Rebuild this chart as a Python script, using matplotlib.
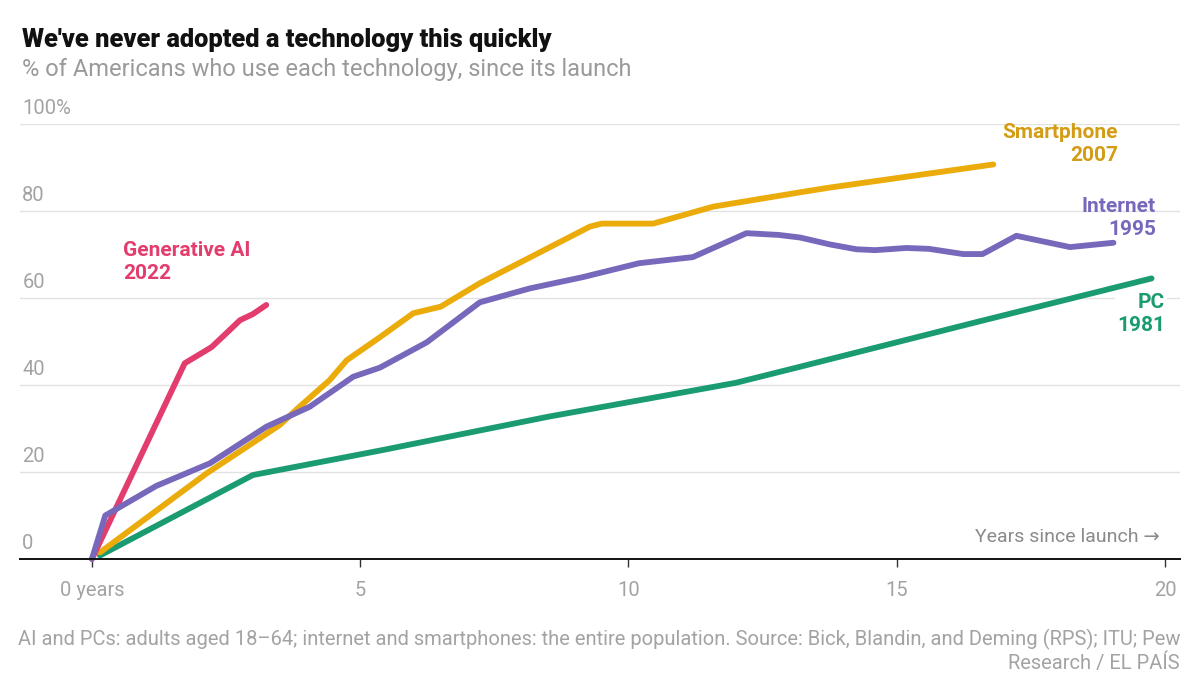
import matplotlib
matplotlib.use("Agg")
import matplotlib.pyplot as plt
from matplotlib import font_manager

# data (years since launch, % of Americans)
ai_x = [0, 1.73, 2.23, 2.54, 2.76, 3.0, 3.25]
ai_y = [0, 45.0, 48.7, 52.3, 54.9, 56.3, 58.4]

internet_x = [0, 0.25, 1.2, 2.2, 3.25, 4.06, 4.87, 5.37, 6.24, 7.23, 8.16, 9.15, 10.2, 11.2,
              12.2, 12.8, 13.2, 13.76, 14.25, 14.6, 15.18, 15.6, 16.24, 16.6, 17.23, 18.23, 19.04]
internet_y = [0, 10.0, 16.8, 22.0, 30.4, 35.0, 41.9, 44.0, 49.8, 59.0, 62.2, 64.8, 68.0, 69.4,
              74.9, 74.5, 73.9, 72.3, 71.2, 71.0, 71.5, 71.3, 70.1, 70.1, 74.3, 71.7, 72.7]

phone_x = [0.15, 2.14, 3.5, 3.87, 4.43, 4.75, 5.37, 5.99, 6.5, 7.23, 9.28, 9.5, 10.46, 11.58,
           13.2, 13.76, 16.17, 16.8]
phone_y = [1.5, 19.7, 30.8, 35.0, 41.1, 45.7, 51.0, 56.5, 58.0, 63.4, 76.4, 77.1, 77.1, 81.0,
           84.3, 85.4, 89.6, 90.7]

pc_x = [0.15, 3.0, 5.4, 8.5, 11.6, 12.0, 13.2, 16.5, 19.75]
pc_y = [0.8, 19.3, 25.0, 32.7, 39.6, 40.5, 44.2, 54.5, 64.5]

y_ticks = [0, 20, 40, 60, 80, 100]
y_labels = ["0", "20", "40", "60", "80", "100%"]
x_ticks = [0, 5, 10, 15, 20]
x_labels = ["0 years", "5", "10", "15", "20"]

PINK = "#e23d6d"
PURPLE = "#7868bb"
YELLOW = "#ebab0a"
YELLOW_TXT = "#d39c12"
GREEN = "#1a9b72"
GRAY = "#a3a3a3"

installed = {f.name for f in font_manager.fontManager.ttflist}
narrow = "Liberation Sans Narrow" if "Liberation Sans Narrow" in installed else "Roboto"
plt.rcParams["font.family"] = [narrow, "DejaVu Sans"]

fig = plt.figure(figsize=(12, 6.97), dpi=100)
ax = fig.add_axes([20 / 1200, 1 - 559 / 697, 1160 / 1200, 435 / 697])
ax.set_xlim(-1.34, 20.28)
ax.set_ylim(0, 100)

for v in y_ticks[1:]:
    ax.axhline(v, color="#e2e2e2", lw=1.0, zorder=1)
ax.axhline(0, color="#111111", lw=1.4, zorder=5, clip_on=False)

lw = 4.2
ax.plot(pc_x, pc_y, color=GREEN, lw=lw, solid_capstyle="round", zorder=3, clip_on=False)
ax.plot(phone_x, phone_y, color=YELLOW, lw=lw, solid_capstyle="round", zorder=3, clip_on=False)
ax.plot(ai_x, ai_y, color=PINK, lw=lw, solid_capstyle="round", zorder=3, clip_on=False)
ax.plot(internet_x, internet_y, color=PURPLE, lw=lw, solid_capstyle="round", zorder=4,
        clip_on=False)

for s in ax.spines.values():
    s.set_visible(False)
ax.set_yticks([])
ax.set_xticks(x_ticks)
ax.set_xticklabels(x_labels)
ax.tick_params(axis="x", length=6, width=1, color="#333333", pad=10,
               labelsize=14.5, labelcolor=GRAY)

ytr = ax.get_yaxis_transform()
for v, lab in zip(y_ticks, y_labels):
    ax.text(0.002, v + 1.3, lab, transform=ytr, fontsize=14.5, color=GRAY,
            ha="left", va="bottom")

# series labels
lab_kw = dict(fontsize=15, fontweight="bold", linespacing=1.28)
ax.text(0.58, 63.5, "Generative AI\n2022", color=PINK, ha="left", va="bottom", **lab_kw)
ax.text(19.12, 90.6, "Smartphone\n2007", color=YELLOW_TXT, ha="right", va="bottom", **lab_kw)
ax.text(19.83, 73.6, "Internet\n1995", color=PURPLE, ha="right", va="bottom", **lab_kw)
ax.text(20.0, 51.4, "PC\n1981", color=GREEN, ha="right", va="bottom",
        bbox=dict(facecolor="white", edgecolor="none", pad=1.5), **lab_kw)

ax.text(19.9, 3.0, "Years since launch \u2192", color="#8a8a8a", fontsize=14,
        ha="right", va="bottom")

fig.text(22 / 1200, 1 - 47 / 697, "We've never adopted a technology this quickly",
         fontsize=18.3, fontweight="black", color="#111111", ha="left", va="baseline")
fig.text(22 / 1200, 1 - 76 / 697, "% of Americans who use each technology, since its launch",
         fontsize=17, color="#9a9a9a", ha="left", va="baseline")
fig.text(1180 / 1200, 1 - 669 / 697,
         "AI and PCs: adults aged 18\u201364; internet and smartphones: the entire population. "
         "Source: Bick, Blandin, and Deming (RPS); ITU; Pew\nResearch / EL PA\u00cdS",
         fontsize=14.5, color=GRAY, ha="right", va="baseline", linespacing=1.2)

fig.savefig("out.png", dpi=100, facecolor="white")
